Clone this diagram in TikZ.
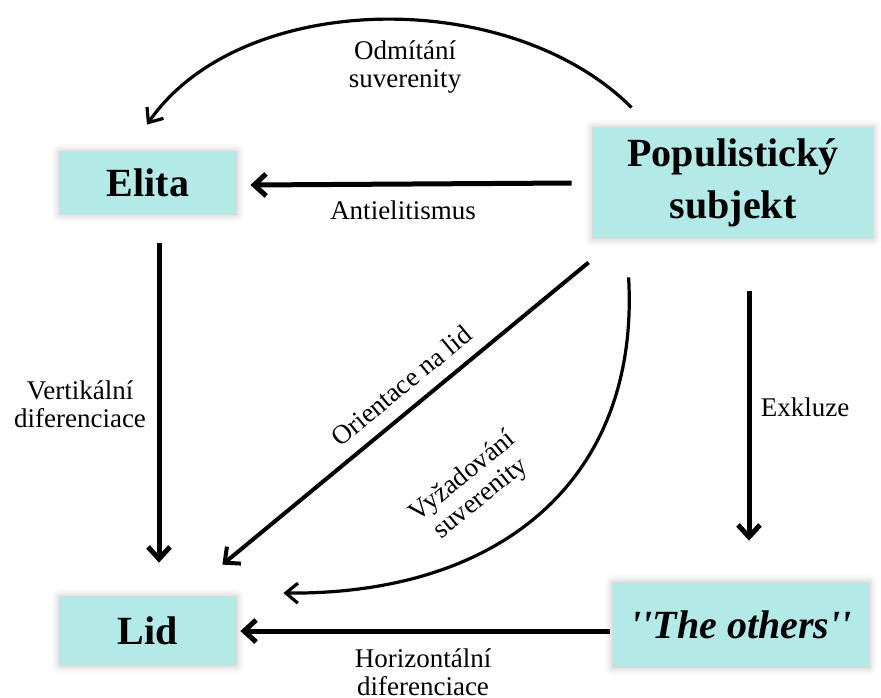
\documentclass[tikz,border=0pt]{standalone}
\usepackage{fontspec}
\setmainfont{Liberation Serif}
\newfontfamily\plainserif{Liberation Serif}
\usetikzlibrary{arrows.meta,calc,shadows.blur}
\definecolor{boxcyan}{RGB}{179,234,232}

\tikzset{
  box/.style={fill=boxcyan,inner sep=0pt,align=center,font=\fontsize{20}{26}\selectfont\bfseries,
    blur shadow={shadow xshift=0pt,shadow yshift=0pt,shadow blur radius=4pt,shadow opacity=30}},
  lbl/.style={align=center,font=\fontsize{13.5}{14}\selectfont},
  arr/.style={line width=2.5pt,-{Straight Barb[length=6pt,width=11pt]}},
  carr/.style={line width=1.6pt,-{Straight Barb[length=6pt,width=10pt]}}
}

\begin{document}
\begin{tikzpicture}[x=0.5pt,y=-0.5pt]
\useasboundingbox (0,0) rectangle (881,697);

% boxes
\node[box,minimum width=88pt,minimum height=31pt] (elita) at (148,183) {Elita};
\node[box,minimum width=140pt,minimum height=55pt] (pop) at (733,183) {Populistický\\subjekt};
\node[box,minimum width=128pt,minimum height=42pt] (others) at (741,625) {\plainserif\bfseries\itshape ''The others''};
\node[box,minimum width=88pt,minimum height=34pt] (lid) at (148,631) {Lid};

% straight arrows
\draw[arr] ($(pop.west)+(-21,0)$) -- ($(elita.east)+(14,2)$);
\draw[arr] ($(elita.south)+(11,29)$) -- ($(lid.north)+(11,-34)$);
\draw[arr,line width=2pt] ($(pop.south west)+(-4,24)$) -- ($(lid.north east)+(-14,-32)$)
  node[lbl,pos=0.47,above=3pt,sloped] (orient) {Orientace na lid};
\draw[arr] ($(pop.south)+(16,53)$) -- ($(others.north)+(8,-42)$);
\draw[arr] ($(others.west)+(-3,6)$) -- ($(lid.east)+(4,0)$);

% curved arrows
\draw[carr] ($(pop.north west)+(39,-20)$) .. controls (509,-15) and (240,-10) .. ($(elita.north)+(-1,-27)$);
\draw[carr] ($(pop.south west)+(36,39)$) .. controls (640,480) and (500,595) .. ($(lid.east)+(47,-38)$);

% labels
\node[lbl] (odm) at (405,67) {Odmítání\\suverenity};
\node[lbl] (anti) at (403,210) {Antielitismus};
\node[lbl] (vert) at (80,404) {Vertikální\\diferenciace};
\node[lbl] (exkl) at (805,407) {Exkluze};
\node[lbl] (horiz) at (423,672) {Horizontální\\diferenciace};
\node[lbl,rotate=39] (vyz) at (472,488) {Vyžadování\\suverenity};
\end{tikzpicture}
\end{document}
